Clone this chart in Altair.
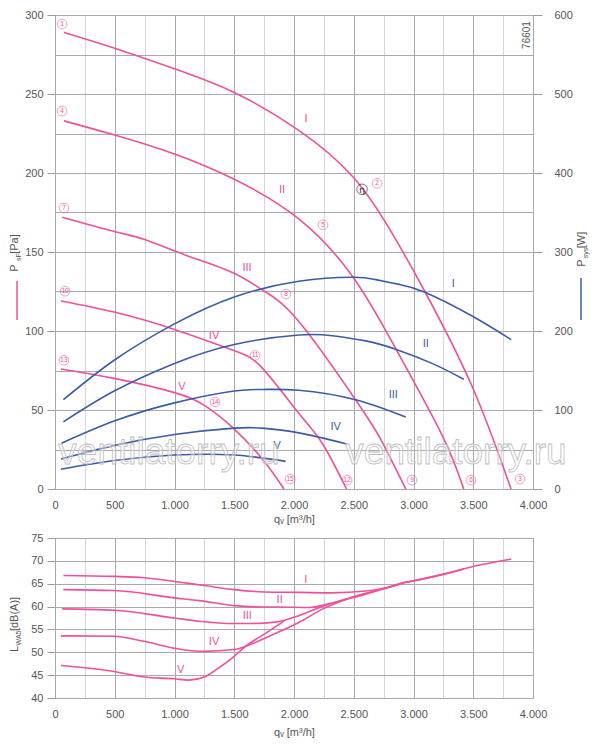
import altair as alt
import pandas as pd

PINK = "#f0509a"
BLUE = "#3a5ca8"
GRID_DARK = "#a9a9a9"
GRID_LIGHT = "#d6d6d6"
LABEL = "#555555"
FONT = "Liberation Sans"

curves = ["I", "II", "III", "IV", "V"]

# ---- static pressure p_sF [Pa] vs flow q_v [m3/h]
q_pI = [75, 500, 1000, 1500, 2040, 2500, 2820, 3095, 3490, 3816]
p_I = [289, 279, 266, 251, 227, 197, 162, 125, 65, 0]
q_pII = [75, 500, 1000, 1500, 2040, 2495, 2850, 3240, 3420]
p_II = [233, 224, 212, 196, 171, 134, 89, 34, 0]
q_pIII = [60, 495, 745, 1095, 1485, 1735, 2040, 2515, 2725, 2935]
p_III = [172, 163, 158, 148, 137, 126, 106, 56.5, 31.5, 0]
q_pIV = [50, 495, 1000, 1485, 1735, 2040, 2240, 2440]
p_IV = [119, 112, 101, 88, 76.5, 48, 28.5, 0]
q_pV = [50, 495, 1000, 1260, 1485, 1735, 1916]
p_V = [76, 70, 61, 52.5, 39, 19, 0]

# ---- power P_sys [W]
q_wI = [70, 495, 1000, 1500, 2040, 2495, 2685, 2880, 3095, 3490, 3818]
w_I = [113, 163, 209, 243, 263, 268, 265, 259, 249, 219, 189]
q_wII = [70, 495, 1000, 1500, 2040, 2320, 2600, 2850, 3155, 3420]
w_II = [85, 124, 159, 183, 195, 194, 187.5, 177, 159, 139]
q_wIII = [55, 495, 1000, 1500, 1735, 2040, 2515, 2935]
w_III = [58, 86, 109, 124, 126, 125, 113, 91]
q_wIV = [50, 495, 1000, 1500, 1735, 2040, 2440]
w_IV = [38, 55, 69, 77, 77, 71, 57]
q_wV = [50, 495, 1000, 1500, 1930]
w_V = [25, 36, 43, 43, 35]

# ---- sound power L_WA5 [dB(A)]
q_sI = [70, 495, 745, 1000, 1250, 1500, 1750, 2040, 2320, 2600, 2800, 2935, 3050, 3255, 3505, 3818]
s_I = [66.8, 66.6, 66.3, 65.5, 64.6, 63.7, 63.2, 63.1, 63.0, 63.4, 64.3, 65.3, 65.9, 67.1, 68.8, 70.4]
q_sII = [70, 495, 1000, 1205, 1500, 1750, 1875, 2125, 2320, 2545, 2770, 2935, 3050, 3255, 3420]
s_II = [63.7, 63.5, 61.9, 61.3, 60.2, 59.9, 59.9, 59.8, 60.8, 62.5, 64.1, 65.3, 65.9, 67.1, 68.2]
q_sIII = [60, 495, 1000, 1205, 1500, 1625, 1845, 2040, 2265, 2545, 2770, 2935]
s_III = [59.5, 59.2, 57.5, 56.8, 56.3, 56.3, 56.6, 58.0, 60.3, 62.3, 64.0, 65.4]
q_sIV = [50, 495, 745, 1000, 1250, 1500, 1595, 1765, 2040, 2250, 2440]
s_IV = [53.6, 53.5, 52.4, 50.9, 50.2, 50.6, 51.3, 53.2, 56.5, 59.6, 61.6]
q_sV = [50, 495, 745, 1000, 1120, 1260, 1370, 1485, 1595, 1765, 1916]
s_V = [47.1, 45.8, 44.6, 44.2, 43.9, 44.7, 46.6, 48.8, 51.3, 54.2, 56.8]

# ---- curve labels
lab_p_q = [2100, 1900, 1607, 1331, 1063]
lab_p_v = [234, 189, 140, 97, 64.5]
lab_w_q = [3333, 3102, 2831, 2349, 1860]
lab_w_v = [260, 184, 119, 79, 55]
lab_s_q = [2098, 1880, 1609, 1331, 1052]
lab_s_v = [65.9, 61.5, 57.9, 52.2, 46.2]

# ---- circled operating points
pt_num = ["1", "4", "7", "10", "13", "2", "5", "8", "11", "14", "3", "6", "9", "12", "15"]
pt_q = [59, 59, 75, 84, 75, 2695, 2243, 1933, 1674, 1339, 3891, 3481, 2987, 2444, 1967]
pt_p = [294.3, 239.2, 177.8, 125.2, 81.4, 193.5, 167.2, 123.4, 84.5, 55.1, 6.3, 5.6, 5.6, 5.6, 6.3]
eta_q = [2569]
eta_p = [189.7]


def frame(qs, vs, names, col):
    rows = []
    for name, q, v in zip(names, qs, vs):
        for a, b in zip(q, v):
            rows.append({"curve": name, "q": a, col: b})
    return pd.DataFrame(rows)


pdf = frame([q_pI, q_pII, q_pIII, q_pIV, q_pV], [p_I, p_II, p_III, p_IV, p_V], curves, "p")
wdf = frame([q_wI, q_wII, q_wIII, q_wIV, q_wV], [w_I, w_II, w_III, w_IV, w_V], curves, "w")
sdf = frame([q_sI, q_sII, q_sIII, q_sIV, q_sV], [s_I, s_II, s_III, s_IV, s_V], curves, "s")

plab = pd.DataFrame({"q": lab_p_q, "p": lab_p_v, "t": curves})
wlab = pd.DataFrame({"q": lab_w_q, "w": lab_w_v, "t": curves})
slab = pd.DataFrame({"q": lab_s_q, "s": lab_s_v, "t": curves})
pts = pd.DataFrame({"q": pt_q, "p": pt_p, "t": pt_num})
eta = pd.DataFrame({"q": eta_q, "p": eta_p, "t": ["η"]})

W = 478
H_TOP = 474
H_BOT = 160


def x_axis(title_pad):
    return alt.Axis(
        values=list(range(0, 4001, 250)),
        labelExpr="datum.value % 500 === 0 ? replace(format(datum.value, ','), ',', '.') : ''",
        grid=True,
        gridColor={"condition": {"test": "datum.value % 500 === 0", "value": GRID_DARK}, "value": GRID_LIGHT},
        ticks=False,
        domain=False,
        labelPadding=10,
        labelFlush=False,
        labelOverlap=False,
        title="qᵥ [m³/h]",
        titlePadding=title_pad,
    )


X = alt.X("q:Q", scale=alt.Scale(domain=[0, 4000], nice=False), axis=x_axis(3))
XB = alt.X("q:Q", scale=alt.Scale(domain=[0, 4000], nice=False), axis=x_axis(7))

yp_axis = alt.Axis(
    values=list(range(0, 301, 25)),
    labelExpr="datum.value % 50 === 0 ? datum.label : ''",
    grid=True,
    gridColor=GRID_DARK,
    tickOpacity={"condition": {"test": "datum.value % 50 === 0", "value": 1}, "value": 0},
    tickSize=8,
    labelPadding=4,
    domain=False,
    labelOverlap=False,
    title=None,
    orient="left",
)
YP = alt.Y("p:Q", scale=alt.Scale(domain=[0, 300], nice=False), axis=yp_axis)

yw_axis = alt.Axis(
    values=list(range(0, 601, 100)),
    grid=False,
    tickSize=9,
    labelPadding=12,
    domain=False,
    labelOverlap=False,
    title=None,
    orient="right",
)
YW = alt.Y("w:Q", scale=alt.Scale(domain=[0, 600], nice=False), axis=yw_axis)


def note(text, x, y, size=11, color=LABEL, angle=0, align="center", baseline="middle", **kw):
    return alt.Chart(pd.DataFrame({"t": [text]})).mark_text(
        font=FONT, fontSize=size, color=color, angle=angle, align=align, baseline=baseline, **kw
    ).encode(text="t:N", x=alt.value(x), y=alt.value(y))


def vline(x, y1, y2, color):
    return alt.Chart(pd.DataFrame({"t": [0]})).mark_rule(color=color, strokeWidth=1.5).encode(
        x=alt.value(x), y=alt.value(y1), y2=alt.value(y2)
    )


pink_lines = alt.Chart(pdf).mark_line(color=PINK, strokeWidth=1.6, interpolate="natural").encode(
    x=X, y=YP, detail="curve:N"
)
pink_text = alt.Chart(plab).mark_text(font=FONT, fontSize=11, color=PINK).encode(x=X, y=YP, text="t:N")
pt_circ = alt.Chart(pts).mark_point(shape="circle", size=95, color=PINK, strokeWidth=0.8, filled=False).encode(x=X, y=YP)
pt_text = alt.Chart(pts).mark_text(font=FONT, fontSize=6.5, color=PINK).encode(x=X, y=YP, text="t:N")
eta_circ = alt.Chart(eta).mark_point(shape="circle", size=110, color="#222222", strokeWidth=0.9, filled=False).encode(x=X, y=YP)
eta_text = alt.Chart(eta).mark_text(font="DejaVu Sans", fontSize=9, color="#222222", dy=1).encode(x=X, y=YP, text="t:N")

pink_group = alt.layer(pink_lines, pink_text, pt_circ, pt_text, eta_circ, eta_text)

blue_lines = alt.Chart(wdf).mark_line(color=BLUE, strokeWidth=1.6, interpolate="natural").encode(
    x=X, y=YW, detail="curve:N"
)
blue_text = alt.Chart(wlab).mark_text(font=FONT, fontSize=11, color=BLUE).encode(x=X, y=YW, text="t:N")
blue_group = alt.layer(blue_lines, blue_text)

top_notes = [
    note("P", -40, 253, angle=270),
    note("sF", -36, 242, size=7, angle=270),
    note("[Pa]", -40, 229, angle=270),
    vline(-38, 266, 305, PINK),
    note("P", 527, 248, angle=270),
    note("sys", 531, 238, size=7, angle=270),
    note("[W]", 527, 225, angle=270),
    vline(526, 263, 305, BLUE),
    note("76601", 472, 20, size=10, angle=270),
    note("ventilatorry.ru", 114, 449, size=37, color="#ffffff", baseline="alphabetic",
         stroke="#bdbdbd", strokeWidth=0.8, fillOpacity=0.35),
    note("ventilatorry.ru", 401, 449, size=37, color="#ffffff", baseline="alphabetic",
         stroke="#bdbdbd", strokeWidth=0.8, fillOpacity=0.35),
]

top = alt.layer(pink_group, blue_group, *top_notes).resolve_scale(y="independent").properties(
    width=W, height=H_TOP
)

ys_axis = alt.Axis(
    values=list(range(40, 76, 5)),
    grid=True,
    gridColor=GRID_DARK,
    tickSize=8,
    labelPadding=4,
    domain=False,
    labelOverlap=False,
    title=None,
)
YS = alt.Y("s:Q", scale=alt.Scale(domain=[40, 75], nice=False), axis=ys_axis)

sound_lines = alt.Chart(sdf).mark_line(color=PINK, strokeWidth=1.6, interpolate="monotone").encode(
    x=XB, y=YS, detail="curve:N"
)
sound_text = alt.Chart(slab).mark_text(font=FONT, fontSize=11, color=PINK).encode(x=XB, y=YS, text="t:N")

bot_notes = [
    note("L", -40, 111, angle=270),
    note("WA5", -36, 100, size=7, angle=270),
    note("[dB(A)]", -40, 76, angle=270),
]

bottom = alt.layer(sound_lines, sound_text, *bot_notes).properties(width=W, height=H_BOT)

chart = alt.vconcat(top, bottom, spacing=6).properties(
    padding={"left": 0, "top": 0, "right": 0, "bottom": 0}, background="white"
).configure_view(stroke="#9a9a9a", strokeWidth=1).configure_axis(
    labelFont=FONT, labelFontSize=11, labelColor=LABEL, tickColor="#9a9a9a",
    titleFont=FONT, titleFontSize=11, titleColor=LABEL, titleFontWeight="normal",
)

chart.save("out.html", embed_options={"renderer": "svg", "actions": False})
